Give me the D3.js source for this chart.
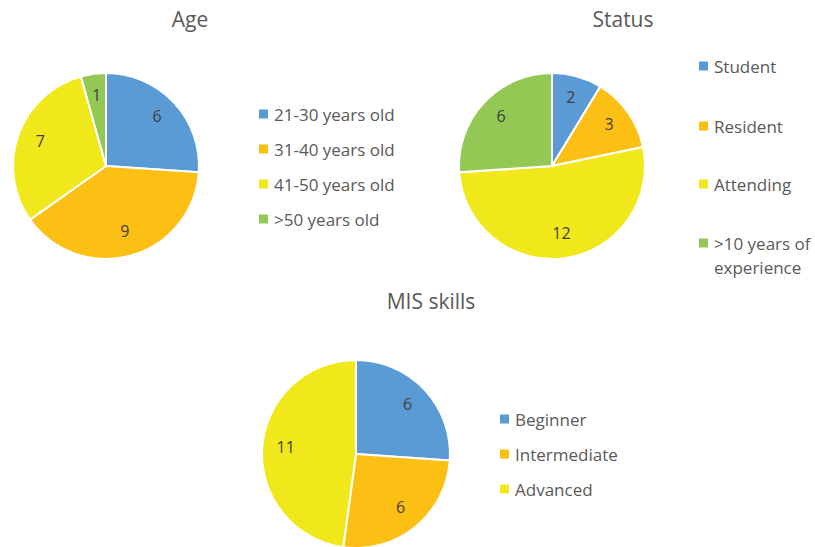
<!DOCTYPE html>
<html>
<head>
<meta charset="utf-8">
<script src="https://cdn.jsdelivr.net/npm/d3@7"></script>
<style>
  html, body { margin: 0; padding: 0; background: #fff; }
  svg { display: block; font-family: "Open Sans", sans-serif; }
</style>
</head>
<body>
<svg id="chart" width="815" height="547"></svg>
<script>
// Survey breakdowns shown as three pies
const ageCategories = ["21-30 years old", "31-40 years old", "41-50 years old", ">50 years old"];
const ageValues = [6, 9, 7, 1];

const statusCategories = ["Student", "Resident", "Attending", ">10 years of experience"];
const statusValues = [2, 3, 12, 6];

const skillCategories = ["Beginner", "Intermediate", "Advanced"];
const skillValues = [6, 6, 11];

const palette = ["#5B9BD5", "#FCBF14", "#F1E81B", "#92C853"];

const svg = d3.select("#chart");

function drawPie(cfg) {
  const g = svg.append("g");
  const data = cfg.categories.map((c, i) => ({ label: c, value: cfg.values[i], color: palette[i] }));
  const pie = d3.pie().value(d => d.value).sort(null);
  const arcs = pie(data);
  const arc = d3.arc().innerRadius(0).outerRadius(cfg.r);
  const labelArc = d3.arc().innerRadius(cfg.r * 0.75).outerRadius(cfg.r * 0.75);

  const pg = g.append("g").attr("transform", `translate(${cfg.cx},${cfg.cy})`);
  pg.selectAll("path").data(arcs).join("path")
    .attr("d", arc)
    .attr("fill", d => d.data.color)
    .attr("stroke", "#fff")
    .attr("stroke-width", 2)
    .attr("stroke-linejoin", "round");

  pg.selectAll("text").data(arcs).join("text")
    .attr("transform", d => {
      const [x, y] = labelArc.centroid(d);
      return `translate(${x},${y - 2})`;
    })
    .attr("text-anchor", "middle")
    .attr("dominant-baseline", "central")
    .attr("font-size", 16)
    .attr("fill", "#404040")
    .text(d => d.data.value);

  g.append("text")
    .attr("x", cfg.titleX).attr("y", cfg.titleY)
    .attr("text-anchor", "middle")
    .attr("font-size", 21)
    .attr("fill", "#595959")
    .text(cfg.title);

  const lg = g.append("g");
  data.forEach((d, i) => {
    const y = cfg.legendY[i];
    lg.append("rect")
      .attr("x", cfg.legendX).attr("y", y - 4.5)
      .attr("width", 9).attr("height", 9)
      .attr("fill", d.color);
    const lines = cfg.wrap && cfg.wrap[i] ? cfg.wrap[i] : [d.label];
    lines.forEach((ln, k) => {
      lg.append("text")
        .attr("x", cfg.legendX + 15).attr("y", y + k * 24)
        .attr("dominant-baseline", "central")
        .attr("font-size", 17)
        .attr("fill", "#595959")
        .text(ln);
    });
  });
}

drawPie({
  title: "Age", titleX: 190, titleY: 27,
  categories: ageCategories, values: ageValues,
  cx: 106, cy: 166, r: 93,
  legendX: 259, legendY: [114, 149, 184, 219]
});

drawPie({
  title: "Status", titleX: 623, titleY: 27,
  categories: statusCategories, values: statusValues,
  cx: 552, cy: 166, r: 93,
  legendX: 699, legendY: [66, 126, 184, 243],
  wrap: { 3: [">10 years of", "experience"] }
});

drawPie({
  title: "MIS skills", titleX: 431, titleY: 309,
  categories: skillCategories, values: skillValues,
  cx: 356, cy: 454, r: 94,
  legendX: 500, legendY: [419, 454, 489]
});
</script>
</body>
</html>
